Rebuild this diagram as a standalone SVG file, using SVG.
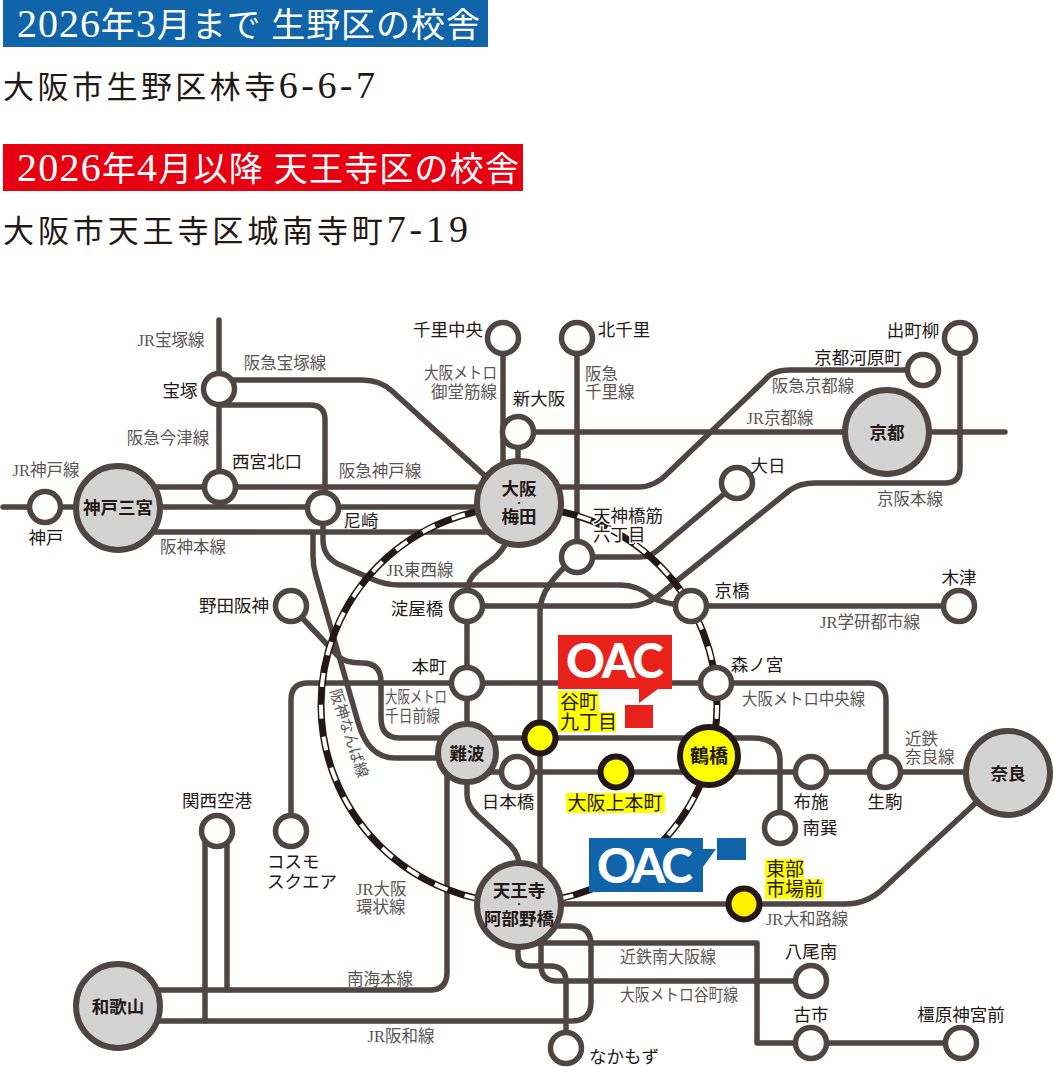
<svg xmlns="http://www.w3.org/2000/svg" width="1054" height="1067" viewBox="0 0 1054 1067">
<style>
text{font-family:"Liberation Serif","Noto Sans CJK JP",serif}
.ln{fill:none;stroke:#4f4644;stroke-width:5.5;stroke-linecap:round;stroke-linejoin:round}
.st{fill:#fff;stroke:#4f4644;stroke-width:5.5}
.big{fill:#d3d3d3;stroke:#4f4644;stroke-width:6}
.hl{fill:#ff0;stroke:#231815;stroke-width:6}
.n{font-size:17.5px;fill:#231815;text-anchor:middle}
.b{font-size:17.5px;fill:#231815;text-anchor:middle;font-weight:700}
.d{font-size:8px}
.l{font-size:16.5px;fill:#595554;text-anchor:middle}
.s{text-anchor:start}
.y{fill:#ff0}
.c{font-size:19px}
.halo{stroke:#fff;stroke-width:3px;paint-order:stroke}
.logo{font-family:"Lato","Liberation Sans",sans-serif;font-weight:900;font-size:48px;fill:#fff}
.h{font-size:34px;fill:#fff}
.a{font-size:31px;fill:#231815}
.h tspan{font-size:40px}
.a tspan{font-size:38px}
</style>
<g id="headers">
<rect x="3" y="0" width="485" height="47" fill="#0f64aa"/>
<text class="h" x="17" y="37" textLength="463" lengthAdjust="spacing"><tspan>2026</tspan>年<tspan>3</tspan>月まで 生野区の校舎</text>
<text class="a" x="3" y="98" textLength="372" lengthAdjust="spacing">大阪市生野区林寺<tspan>6-6-7</tspan></text>
<rect x="3" y="144" width="520" height="47" fill="#e60012"/>
<text class="h" x="17" y="181" textLength="502" lengthAdjust="spacing"><tspan>2026</tspan>年<tspan>4</tspan>月以降 天王寺区の校舎</text>
<text class="a" x="3" y="242" textLength="465" lengthAdjust="spacing">大阪市天王寺区城南寺町<tspan>7-19</tspan></text>
</g>
<g id="connectors">
<path class="ln" d="M3,507H519"/>
<path class="ln" d="M118,487H519"/>
<path class="ln" d="M118,532H519"/>
<path class="ln" d="M219,320V487"/>
<path class="ln" d="M219,380H362Q380,380 392,391L495,485"/>
<path class="ln" d="M219,405H310Q325,405 325,420V508"/>
<path class="ln" d="M323,508V540Q323,556 338,564L372,579Q385,585 400,585H620Q638,585 652,597Q662,604 691,606"/>
<path class="ln" d="M467,606H630Q645,606 658,596L790,490Q800,483 815,483H945Q960,483 960,468V338"/>
<path class="ln" d="M691,606H959"/>
<path class="ln" d="M519,487H638Q655,487 668,473L765,380Q772,370 790,370H923"/>
<path class="ln" d="M518,432H1005"/>
<path class="ln" d="M518,432V507"/>
<path class="ln" d="M503,338V480"/>
<path class="ln" d="M577,338V557"/>
<path class="ln" d="M577,557Q540,585 540,612V904"/>
<path class="ln" d="M577,557H640Q650,557 658,550L737,483"/>
<path class="ln" d="M505,545Q498,557 485,565Q467,577 467,592V795Q467,805 477,815L510,845Q520,855 520,870"/>
<path class="ln" d="M291,606L338,656Q345,663 362,663Q381,663 381,682V718Q381,738 400,738H752Q780,738 780,760V828"/>
<path class="ln" d="M313,533V556Q313,566 316,576L358,722Q368,758 395,758H467"/>
<path class="ln" d="M291,831V700Q291,683 308,683H870Q886,683 886,700V772"/>
<path class="ln" d="M467,772H1008"/>
<path class="ln" d="M517,904H845Q868,904 885,887L1008,773"/>
<path class="ln" d="M447,752V972Q447,990 430,990H118"/>
<path class="ln" d="M118,1021H572Q591,1021 591,1002V945Q591,926 572,926H517"/>
<path class="ln" d="M205,831V1021"/>
<path class="ln" d="M227,831V990"/>
<path class="ln" d="M530,943H757V1043H961"/>
<path class="ln" d="M541,925V965Q541,981 557,981H811"/>
<path class="ln" d="M518,940V955Q518,966 530,966H550Q566,966 566,982V1048"/>
</g>
<g id="ring">
<circle cx="519" cy="705" r="198" fill="none" stroke="#231815" stroke-width="7"/>
<circle cx="519" cy="705" r="198" fill="none" stroke="#fff" stroke-width="4" stroke-dasharray="14 18"/>
</g>
<g id="line-labels">
<text class="l" x="171" y="346">JR宝塚線</text>
<text class="l" x="285" y="369">阪急宝塚線</text>
<text class="l" x="168" y="444">阪急今津線</text>
<text class="l" x="46" y="476">JR神戸線</text>
<text class="l" x="380" y="477">阪急神戸線</text>
<text class="l" x="193" y="553">阪神本線</text>
<text class="l s" x="424" y="379" textLength="73" lengthAdjust="spacingAndGlyphs">大阪メトロ</text>
<text class="l s" x="431" y="398" textLength="66" lengthAdjust="spacingAndGlyphs">御堂筋線</text>
<text class="l s" x="585" y="380">阪急</text>
<text class="l s" x="585" y="398">千里線</text>
<text class="l" x="813" y="392">阪急京都線</text>
<text class="l" x="780" y="424">JR京都線</text>
<text class="l" x="910" y="505">京阪本線</text>
<text class="l" x="420" y="576">JR東西線</text>
<text class="l" x="870" y="628">JR学研都市線</text>
<text class="l s" x="742" y="705" textLength="123" lengthAdjust="spacingAndGlyphs">大阪メトロ中央線</text>
<text class="l s" x="385" y="703" textLength="62" lengthAdjust="spacingAndGlyphs">大阪メトロ</text>
<text class="l s" x="385" y="722" textLength="55" lengthAdjust="spacingAndGlyphs">千日前線</text>
<text class="l" style="font-size:15.4px" transform="translate(344,735) rotate(72)">阪神なんば線</text>
<text class="l s" x="905" y="745">近鉄</text>
<text class="l s" x="905" y="763">奈良線</text>
<text class="l s" x="356" y="895">JR大阪</text>
<text class="l s" x="356" y="913">環状線</text>
<text class="l" x="380" y="985">南海本線</text>
<text class="l" x="401" y="1042">JR阪和線</text>
<text class="l s" x="766" y="925" textLength="82" lengthAdjust="spacingAndGlyphs">JR大和路線</text>
<text class="l s" x="620" y="963" textLength="96" lengthAdjust="spacingAndGlyphs">近鉄南大阪線</text>
<text class="l s" x="620" y="1001" textLength="118" lengthAdjust="spacingAndGlyphs">大阪メトロ谷町線</text>
</g>
<g id="n-kobe"><circle class="st" cx="45" cy="507" r="15.5"/><text class="n" x="46" y="544">神戸</text></g>
<g id="n-sannomiya"><circle class="big" cx="118" cy="508" r="42"/><text class="b" x="118" y="514">神戸三宮</text></g>
<g id="n-takarazuka"><circle class="st" cx="219" cy="389" r="15.5"/><text class="n" x="180" y="397">宝塚</text></g>
<g id="n-nishinomiya"><circle class="st" cx="220" cy="487" r="15.5"/><text class="n" x="267" y="468">西宮北口</text></g>
<g id="n-amagasaki"><circle class="st" cx="323" cy="508" r="15.5"/><text class="n" x="361" y="527">尼崎</text></g>
<g id="n-umeda"><circle class="big" cx="519" cy="503" r="42"/><text class="b" x="519" y="495">大阪</text><text class="b d" x="519" y="506">・</text><text class="b" x="519" y="523">梅田</text></g>
<g id="n-senri"><circle class="st" cx="503" cy="338" r="15.5"/><text class="n" x="448" y="336">千里中央</text></g>
<g id="n-kitasenri"><circle class="st" cx="577" cy="338" r="15.5"/><text class="n" x="624" y="336">北千里</text></g>
<g id="n-shinosaka"><circle class="st" cx="518" cy="432" r="15.5"/><text class="n" x="539" y="405">新大阪</text></g>
<g id="n-kawaramachi"><circle class="st" cx="923" cy="370" r="15.5"/><text class="n" x="858" y="364">京都河原町</text></g>
<g id="n-demachi"><circle class="st" cx="960" cy="338" r="15.5"/><text class="n" x="913" y="337">出町柳</text></g>
<g id="n-kyoto"><circle class="big" cx="887" cy="432" r="42"/><text class="b" x="887" y="439">京都</text></g>
<g id="n-dainichi"><circle class="st" cx="737" cy="483" r="15.5"/><text class="n" x="768" y="472">大日</text></g>
<g id="n-tenjin"><circle class="st" cx="577" cy="557" r="15.5"/><text class="n s halo" x="593" y="522">天神橋筋</text><text class="n s halo" x="593" y="541">六丁目</text></g>
<g id="n-yodoyabashi"><circle class="st" cx="467" cy="606" r="15.5"/><text class="n" x="417" y="615">淀屋橋</text></g>
<g id="n-kyobashi"><circle class="st" cx="691" cy="606" r="15.5"/><text class="n" x="732" y="597">京橋</text></g>
<g id="n-kizu"><circle class="st" cx="959" cy="606" r="15.5"/><text class="n" x="959" y="584">木津</text></g>
<g id="n-noda"><circle class="st" cx="291" cy="606" r="15.5"/><text class="n" x="234" y="612">野田阪神</text></g>
<g id="n-honmachi"><circle class="st" cx="467" cy="683" r="15.5"/><text class="n" x="429" y="673">本町</text></g>
<g id="n-morinomiya"><circle class="st" cx="716" cy="683" r="15.5"/><text class="n" x="757" y="671">森ノ宮</text></g>
<g id="n-namba"><circle class="big" cx="467" cy="753" r="29"/><text class="b" x="467" y="760">難波</text></g>
<g id="n-nipponbashi"><circle class="st" cx="517" cy="772" r="15.5"/><text class="n" x="508" y="808">日本橋</text></g>
<g id="n-tanimachi"><circle class="hl" cx="540" cy="738" r="15.5"/><rect class="y" x="558" y="691" width="41" height="21"/><rect class="y" x="558" y="712" width="58" height="20"/><text class="n s c" x="560" y="709">谷町</text><text class="n s c" x="560" y="729">九丁目</text></g>
<g id="n-uehommachi"><circle class="hl" cx="616" cy="772" r="15.5"/><rect class="y" x="566" y="793" width="99" height="20"/><text class="n c" x="615" y="810">大阪上本町</text></g>
<g id="n-tsuruhashi"><circle class="hl" cx="709" cy="756" r="29"/><text class="b c" x="709" y="763">鶴橋</text></g>
<g id="n-fuse"><circle class="st" cx="811" cy="772" r="15.5"/><text class="n" x="811" y="808">布施</text></g>
<g id="n-ikoma"><circle class="st" cx="885" cy="772" r="15.5"/><text class="n" x="885" y="808">生駒</text></g>
<g id="n-nara"><circle class="big" cx="1008" cy="773" r="42"/><text class="b" x="1008" y="780">奈良</text></g>
<g id="n-minamitatsumi"><circle class="st" cx="780" cy="828" r="15.5"/><text class="n" x="820" y="834">南巽</text></g>
<g id="n-tobu"><circle cx="744" cy="904" r="15.5" fill="#fff000" stroke="#231815" stroke-width="6"/><rect class="y" x="765" y="859" width="39" height="19"/><rect class="y" x="765" y="879" width="59" height="20"/><text class="n s c" x="766" y="876">東部</text><text class="n s c" x="766" y="896">市場前</text></g>
<g id="n-tennoji"><circle class="big" cx="519" cy="905" r="42"/><text class="b" x="519" y="897">天王寺</text><text class="b d" x="519" y="907">・</text><text class="b" x="519" y="925">阿部野橋</text></g>
<g id="n-kansai"><circle class="st" cx="217" cy="831" r="15.5"/><text class="n" x="217" y="807">関西空港</text></g>
<g id="n-cosmo"><circle class="st" cx="291" cy="831" r="15.5"/><text class="n s" x="267" y="868">コスモ</text><text class="n s" x="267" y="888">スクエア</text></g>
<g id="n-wakayama"><circle class="big" cx="118" cy="1006" r="42"/><text class="b" x="118" y="1013">和歌山</text></g>
<g id="n-yaominami"><circle class="st" cx="811" cy="981" r="15.5"/><text class="n" x="811" y="958">八尾南</text></g>
<g id="n-furuichi"><circle class="st" cx="811" cy="1043" r="15.5"/><text class="n" x="811" y="1021">古市</text></g>
<g id="n-kashihara"><circle class="st" cx="961" cy="1043" r="15.5"/><text class="n" x="961" y="1021">橿原神宮前</text></g>
<g id="n-nakamozu"><circle class="st" cx="566" cy="1048" r="15.5"/><text class="n s" x="589" y="1063">なかもず</text></g>
<g id="logo-red">
<path fill="#e8211a" d="M558,635H672V689H658L639,703V689H558Z"/>
<rect x="625" y="705" width="28" height="23" fill="#e8211a"/>
<text class="logo" x="566" y="678" textLength="98" lengthAdjust="spacing">OAC</text>
</g>
<g id="logo-blue">
<path fill="#0f64aa" d="M589,838H703V849H716L703,867V892H589Z"/>
<rect x="717" y="838" width="29" height="22" fill="#0f64aa"/>
<text class="logo" x="597" y="883" textLength="96" lengthAdjust="spacing">OAC</text>
</g>
</svg>
